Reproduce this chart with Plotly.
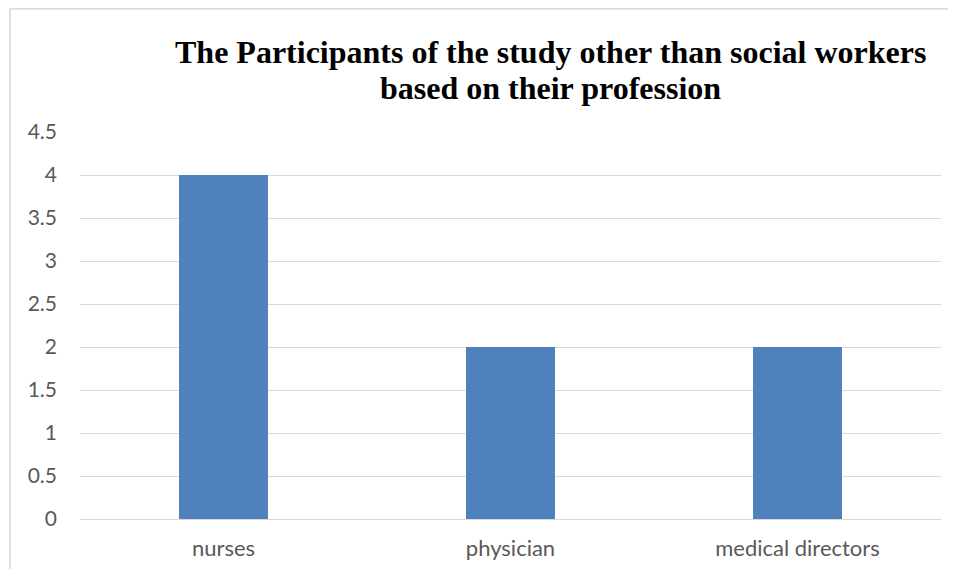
import plotly.graph_objects as go

categories = ["nurses", "physician", "medical directors"]
values = [4, 2, 2]
tick_vals = [0, 0.5, 1, 1.5, 2, 2.5, 3, 3.5, 4, 4.5]
tick_text = ["0", "0.5", "1", "1.5", "2", "2.5", "3", "3.5", "4", "4.5"]
title_lines = ["The Participants of the study other than social workers",
               "based on their profession"]

# page body has an 8px default margin; figure coords are offset by it
OFF = 8
W, H = 956 - 2 * OFF, 577 - 2 * OFF
L, T = 80 - OFF, 132 - OFF
R = W - (941 - OFF)
B = H - (519 - OFF)
pw, ph = W - L - R, H - T - B

fig = go.Figure(go.Bar(x=categories, y=values, marker_color="#4F81BD",
                       marker_line_width=0, width=0.31))

annotations = []
for yc, line in zip([52, 88], title_lines):
    annotations.append(dict(
        text="<b>" + line + "</b>", showarrow=False,
        xref="paper", yref="paper",
        x=(550 - OFF - L) / pw, xanchor="center",
        y=1 + (T - (yc - OFF)) / ph, yanchor="middle",
        font=dict(family="Liberation Serif", size=32, color="black")))

bx0 = (10 - OFF - L) / pw
bx1 = (W - L) / pw
by0 = -B / ph
by1 = 1 + (T - 0.8) / ph
border = dict(color="#d9d9d9", width=1.5)

fig.update_layout(
    width=W, height=H,
    margin=dict(l=L, r=R, t=T, b=B),
    paper_bgcolor="white", plot_bgcolor="white",
    showlegend=False,
    annotations=annotations,
    xaxis=dict(showgrid=False, showline=False, ticks="", ticklabelstandoff=14,
               tickfont=dict(family="Lato", size=22, color="#595959")),
    yaxis=dict(range=[0, 4.5], tickvals=tick_vals, ticktext=tick_text,
               showgrid=True, gridcolor="#d9d9d9", gridwidth=1.3,
               zeroline=True, zerolinecolor="#d9d9d9", zerolinewidth=1.3,
               showline=False, ticks="", ticklabelstandoff=22,
               tickfont=dict(family="Lato", size=21, color="#595959")),
    shapes=[
        dict(type="line", xref="paper", yref="paper",
             x0=bx0, x1=bx0, y0=by0, y1=by1, line=border, layer="below"),
        dict(type="line", xref="paper", yref="paper",
             x0=bx0, x1=bx1, y0=by1, y1=by1, line=border, layer="below"),
    ],
)

fig.write_html("out.html")
